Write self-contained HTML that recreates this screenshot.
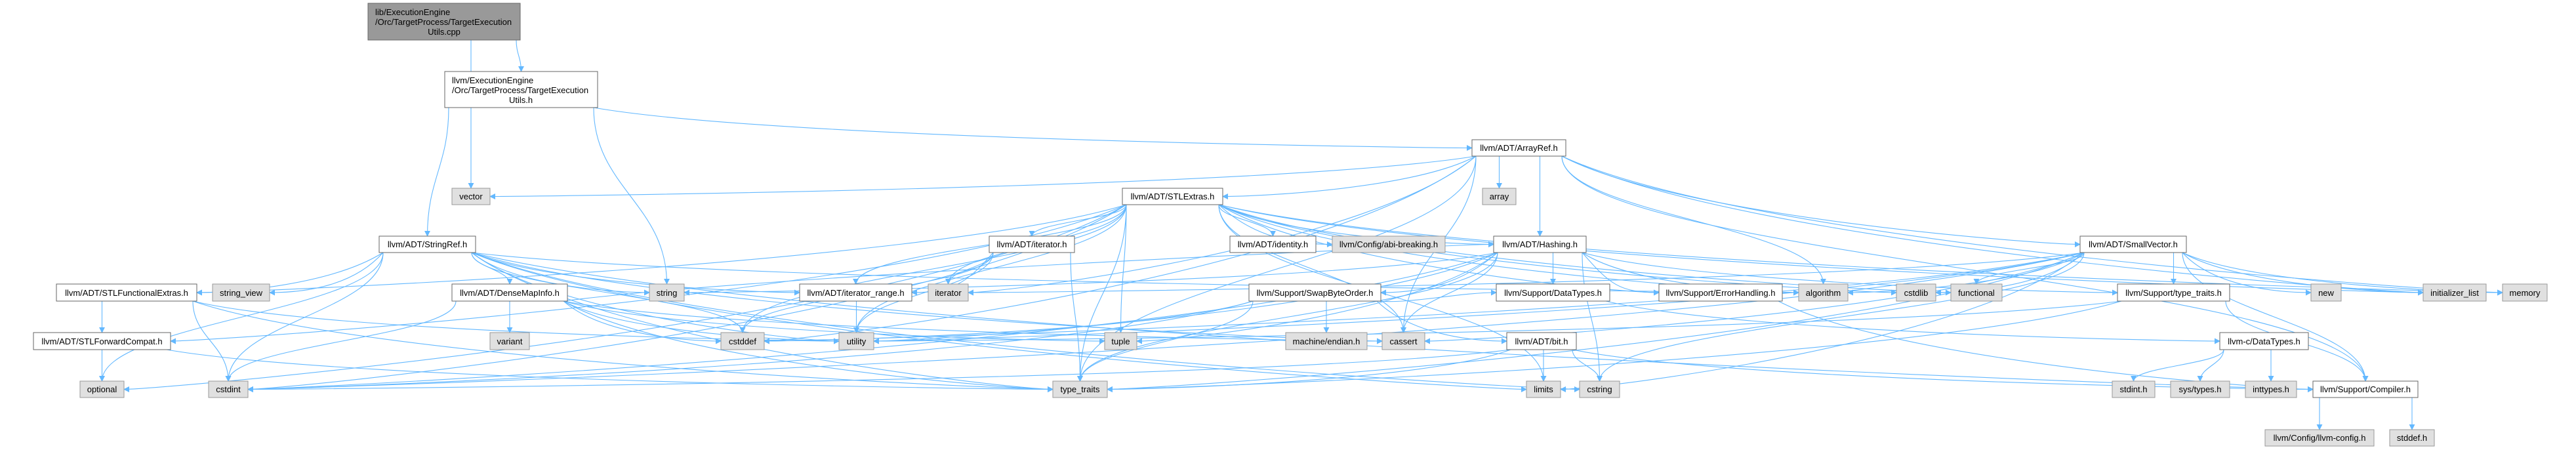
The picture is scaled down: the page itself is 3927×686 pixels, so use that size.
<!DOCTYPE html>
<html><head><meta charset="utf-8">
<style>
html,body{margin:0;padding:0;background:#fff;}
svg{display:block;}
text{font-family:"Liberation Sans",Arial,sans-serif;font-size:13px;fill:#000;}
</style></head>
<body>
<svg id="g" width="3927" height="686" viewBox="0 0 3927 686" xmlns="http://www.w3.org/2000/svg">
<defs>
<marker id="ah" viewBox="0 0 10 10" refX="9" refY="5" markerWidth="9" markerHeight="9" markerUnits="userSpaceOnUse" orient="auto">
<path d="M0,0 L10,5 L0,10 z" fill="#63b8ff"/>
</marker>
</defs>
<g id="edges" fill="none" stroke="#63b8ff" stroke-width="1.1"></g>
<g id="nodes">
<rect x="561" y="5" width="232" height="56" fill="#999" stroke="#666"/>
<text x="572" y="23">lib/ExecutionEngine</text>
<text x="572" y="38">/Orc/TargetProcess/TargetExecution</text>
<text x="677" y="53" text-anchor="middle">Utils.cpp</text>
<rect x="678" y="109" width="233" height="55" fill="#fff" stroke="#666"/>
<text x="689" y="127">llvm/ExecutionEngine</text>
<text x="689" y="142">/Orc/TargetProcess/TargetExecution</text>
<text x="794" y="157" text-anchor="middle">Utils.h</text>
</g>
</svg>
<script>
var R={2:[213,238],3:[287,312],4:[360,385],5:[433,459],6:[507,533],7:[581,606],8:[655,680]};
var N={
root:[561,793,5,61,0],teu:[678,911,109,164,0],
arrayref:[2244,2387,2,'llvm/ADT/ArrayRef.h',1],
vector:[689,747,3,'vector',2],array:[2260,2311,3,'array',2],stlextras:[1711,1864,3,'llvm/ADT/STLExtras.h',1],
stringref:[578,725,4,'llvm/ADT/StringRef.h',1],iteratorh:[1508,1638,4,'llvm/ADT/iterator.h',1],identity:[1875,2006,4,'llvm/ADT/identity.h',1],
abi:[2031,2203,4,'llvm/Config/abi-breaking.h',2],hashing:[2277,2418,4,'llvm/ADT/Hashing.h',1],smallvector:[3171,3333,4,'llvm/ADT/SmallVector.h',1],
stlfe:[86,300,5,'llvm/ADT/STLFunctionalExtras.h',1],string_view:[324,411,5,'string_view',2],densemap:[689,865,5,'llvm/ADT/DenseMapInfo.h',1],
string:[990,1043,5,'string',2],itrange:[1219,1390,5,'llvm/ADT/iterator_range.h',1],iterator:[1415,1476,5,'iterator',2],
swap:[1904,2105,5,'llvm/Support/SwapByteOrder.h',1],datatypes:[2281,2454,5,'llvm/Support/DataTypes.h',1],errh:[2529,2717,5,'llvm/Support/ErrorHandling.h',1],
algorithm:[2742,2817,5,'algorithm',2],cstdlib:[2891,2951,5,'cstdlib',2],functional:[2974,3052,5,'functional',2],
stt:[3228,3399,5,'llvm/Support/type_traits.h',1],new_:[3523,3569,5,'new',2],initlist:[3694,3790,5,'initializer_list',2],memory:[3815,3883,5,'memory',2],
stlfc:[51,260,6,'llvm/ADT/STLForwardCompat.h',1],variant:[747,807,6,'variant',2],cstddef:[1099,1165,6,'cstddef',2],utility:[1279,1332,6,'utility',2],
tuple:[1684,1733,6,'tuple',2],endian:[1960,2084,6,'machine/endian.h',2],cassert:[2107,2172,6,'cassert',2],bit:[2297,2403,6,'llvm/ADT/bit.h',1],
cdt:[3384,3519,6,'llvm-c/DataTypes.h',1],
optional:[122,189,7,'optional',2],cstdint:[318,378,7,'cstdint',2],type_traits:[1605,1688,7,'type_traits',2],limits:[2327,2379,7,'limits',2],
cstring:[2408,2469,7,'cstring',2],stdint:[3220,3285,7,'stdint.h',2],systypes:[3309,3399,7,'sys/types.h',2],inttypes:[3423,3501,7,'inttypes.h',2],
compiler:[3526,3686,7,'llvm/Support/Compiler.h',1],
llvmconfig:[3453,3619,8,'llvm/Config/llvm-config.h',2],stddef:[3643,3711,8,'stddef.h',2]
};
function box(k){var n=N[k];if(k=='root'||k=='teu')return {x1:n[0],x2:n[1],y1:n[2],y2:n[3]};var r=R[n[2]];return {x1:n[0],x2:n[1],y1:r[0],y2:r[1]};}
var E={
root:['teu','vector'],
teu:['arrayref','stringref','string'],
arrayref:['array','hashing','stlextras','smallvector','compiler','algorithm','cassert','cstddef','initlist','iterator','memory','type_traits','vector'],
stlextras:['stlfc','stlfe','iteratorh','itrange','identity','abi','errh','hashing','algorithm','cassert','cstddef','cstdint','cstdlib','functional','initlist','iterator','limits','memory','optional','tuple','type_traits','utility'],
stringref:['densemap','stlfe','itrange','compiler','algorithm','cassert','cstddef','cstring','limits','string','string_view','type_traits','utility','cstdint','optional'],
stlfe:['stlfc','cstdint','type_traits','utility'],
stlfc:['optional','type_traits'],
densemap:['cassert','cstddef','cstdint','tuple','type_traits','utility','variant','hashing'],
iteratorh:['itrange','cstddef','iterator','type_traits','utility'],
itrange:['utility'],
hashing:['datatypes','errh','swap','stt','algorithm','cassert','cstring','string','tuple','utility','type_traits','cstdint'],
swap:['bit','datatypes','cstddef','cstdint','type_traits','endian'],
bit:['compiler','cstdint','cstring','limits','type_traits'],
datatypes:['cdt'],
cdt:['inttypes','stdint','systypes'],
errh:['compiler'],
smallvector:['compiler','stt','algorithm','cassert','cstddef','cstdint','cstdlib','cstring','functional','initlist','iterator','limits','memory','new_','type_traits','utility'],
stt:['compiler','type_traits','utility'],
compiler:['llvmconfig','stddef']
};
var eg=document.getElementById('edges'),ng=document.getElementById('nodes'),ns='http://www.w3.org/2000/svg';
for(var s in E){var a=box(s);E[s].forEach(function(t){var b=box(t);var tx=(b.x1+b.x2)/2,ty=b.y1;
var sx=Math.max(a.x1+6,Math.min(a.x2-6,tx)),sy=a.y2;var d;
var dx=tx-sx,dy=ty-sy;
if(Math.abs(dx)>4*Math.max(dy,20)){ // far horizontal: enter side
 var side=dx<0?b.x2:b.x1;var my=(b.y1+b.y2)/2;
 d='M'+sx+','+sy+' C'+(sx+dx*0.2)+','+(sy+dy*0.6+20)+' '+(side-(dx<0?-60:60))+','+my+' '+side+','+my;
}else{
 d='M'+sx+','+sy+' C'+sx+','+(sy+dy*0.45)+' '+tx+','+(ty-dy*0.45)+' '+tx+','+ty;}
var p=document.createElementNS(ns,'path');p.setAttribute('d',d);p.setAttribute('marker-end','url(#ah)');eg.appendChild(p);});}
</script>
<svg width="0" height="0"></svg>
<script>
</script>
<div style="position:absolute;left:0;top:0;">
<svg width="3927" height="686" viewBox="0 0 3927 686" xmlns="http://www.w3.org/2000/svg">
<g stroke-width="1">
<rect x="2244" y="213" width="143" height="25" fill="#fff" stroke="#666"/><text x="2315.5" y="230" text-anchor="middle">llvm/ADT/ArrayRef.h</text>
<rect x="689" y="287" width="58" height="25" fill="#e0e0e0" stroke="#999"/><text x="718" y="304" text-anchor="middle">vector</text>
<rect x="2260" y="287" width="51" height="25" fill="#e0e0e0" stroke="#999"/><text x="2285.5" y="304" text-anchor="middle">array</text>
<rect x="1711" y="287" width="153" height="25" fill="#fff" stroke="#666"/><text x="1787.5" y="304" text-anchor="middle">llvm/ADT/STLExtras.h</text>
<rect x="578" y="360" width="147" height="25" fill="#fff" stroke="#666"/><text x="651.5" y="377" text-anchor="middle">llvm/ADT/StringRef.h</text>
<rect x="1508" y="360" width="130" height="25" fill="#fff" stroke="#666"/><text x="1573" y="377" text-anchor="middle">llvm/ADT/iterator.h</text>
<rect x="1875" y="360" width="131" height="25" fill="#fff" stroke="#666"/><text x="1940.5" y="377" text-anchor="middle">llvm/ADT/identity.h</text>
<rect x="2031" y="360" width="172" height="25" fill="#e0e0e0" stroke="#999"/><text x="2117" y="377" text-anchor="middle">llvm/Config/abi-breaking.h</text>
<rect x="2277" y="360" width="141" height="25" fill="#fff" stroke="#666"/><text x="2347.5" y="377" text-anchor="middle">llvm/ADT/Hashing.h</text>
<rect x="3171" y="360" width="162" height="25" fill="#fff" stroke="#666"/><text x="3252" y="377" text-anchor="middle">llvm/ADT/SmallVector.h</text>
<rect x="86" y="433" width="214" height="26" fill="#fff" stroke="#666"/><text x="193" y="451" text-anchor="middle">llvm/ADT/STLFunctionalExtras.h</text>
<rect x="324" y="433" width="87" height="26" fill="#e0e0e0" stroke="#999"/><text x="367.5" y="451" text-anchor="middle">string_view</text>
<rect x="689" y="433" width="176" height="26" fill="#fff" stroke="#666"/><text x="777" y="451" text-anchor="middle">llvm/ADT/DenseMapInfo.h</text>
<rect x="990" y="433" width="53" height="26" fill="#e0e0e0" stroke="#999"/><text x="1016.5" y="451" text-anchor="middle">string</text>
<rect x="1219" y="433" width="171" height="26" fill="#fff" stroke="#666"/><text x="1304.5" y="451" text-anchor="middle">llvm/ADT/iterator_range.h</text>
<rect x="1415" y="433" width="61" height="26" fill="#e0e0e0" stroke="#999"/><text x="1445.5" y="451" text-anchor="middle">iterator</text>
<rect x="1904" y="433" width="201" height="26" fill="#fff" stroke="#666"/><text x="2004.5" y="451" text-anchor="middle">llvm/Support/SwapByteOrder.h</text>
<rect x="2281" y="433" width="173" height="26" fill="#fff" stroke="#666"/><text x="2367.5" y="451" text-anchor="middle">llvm/Support/DataTypes.h</text>
<rect x="2529" y="433" width="188" height="26" fill="#fff" stroke="#666"/><text x="2623" y="451" text-anchor="middle">llvm/Support/ErrorHandling.h</text>
<rect x="2742" y="433" width="75" height="26" fill="#e0e0e0" stroke="#999"/><text x="2779.5" y="451" text-anchor="middle">algorithm</text>
<rect x="2891" y="433" width="60" height="26" fill="#e0e0e0" stroke="#999"/><text x="2921" y="451" text-anchor="middle">cstdlib</text>
<rect x="2974" y="433" width="78" height="26" fill="#e0e0e0" stroke="#999"/><text x="3013" y="451" text-anchor="middle">functional</text>
<rect x="3228" y="433" width="171" height="26" fill="#fff" stroke="#666"/><text x="3313.5" y="451" text-anchor="middle">llvm/Support/type_traits.h</text>
<rect x="3523" y="433" width="46" height="26" fill="#e0e0e0" stroke="#999"/><text x="3546" y="451" text-anchor="middle">new</text>
<rect x="3694" y="433" width="96" height="26" fill="#e0e0e0" stroke="#999"/><text x="3742" y="451" text-anchor="middle">initializer_list</text>
<rect x="3815" y="433" width="68" height="26" fill="#e0e0e0" stroke="#999"/><text x="3849" y="451" text-anchor="middle">memory</text>
<rect x="51" y="507" width="209" height="26" fill="#fff" stroke="#666"/><text x="155.5" y="525" text-anchor="middle">llvm/ADT/STLForwardCompat.h</text>
<rect x="747" y="507" width="60" height="26" fill="#e0e0e0" stroke="#999"/><text x="777" y="525" text-anchor="middle">variant</text>
<rect x="1099" y="507" width="66" height="26" fill="#e0e0e0" stroke="#999"/><text x="1132" y="525" text-anchor="middle">cstddef</text>
<rect x="1279" y="507" width="53" height="26" fill="#e0e0e0" stroke="#999"/><text x="1305.5" y="525" text-anchor="middle">utility</text>
<rect x="1684" y="507" width="49" height="26" fill="#e0e0e0" stroke="#999"/><text x="1708.5" y="525" text-anchor="middle">tuple</text>
<rect x="1960" y="507" width="124" height="26" fill="#e0e0e0" stroke="#999"/><text x="2022" y="525" text-anchor="middle">machine/endian.h</text>
<rect x="2107" y="507" width="65" height="26" fill="#e0e0e0" stroke="#999"/><text x="2139.5" y="525" text-anchor="middle">cassert</text>
<rect x="2297" y="507" width="106" height="26" fill="#fff" stroke="#666"/><text x="2350" y="525" text-anchor="middle">llvm/ADT/bit.h</text>
<rect x="3384" y="507" width="135" height="26" fill="#fff" stroke="#666"/><text x="3451.5" y="525" text-anchor="middle">llvm-c/DataTypes.h</text>
<rect x="122" y="581" width="67" height="25" fill="#e0e0e0" stroke="#999"/><text x="155.5" y="598" text-anchor="middle">optional</text>
<rect x="318" y="581" width="60" height="25" fill="#e0e0e0" stroke="#999"/><text x="348" y="598" text-anchor="middle">cstdint</text>
<rect x="1605" y="581" width="83" height="25" fill="#e0e0e0" stroke="#999"/><text x="1646.5" y="598" text-anchor="middle">type_traits</text>
<rect x="2327" y="581" width="52" height="25" fill="#e0e0e0" stroke="#999"/><text x="2353" y="598" text-anchor="middle">limits</text>
<rect x="2408" y="581" width="61" height="25" fill="#e0e0e0" stroke="#999"/><text x="2438.5" y="598" text-anchor="middle">cstring</text>
<rect x="3220" y="581" width="65" height="25" fill="#e0e0e0" stroke="#999"/><text x="3252.5" y="598" text-anchor="middle">stdint.h</text>
<rect x="3309" y="581" width="90" height="25" fill="#e0e0e0" stroke="#999"/><text x="3354" y="598" text-anchor="middle">sys/types.h</text>
<rect x="3423" y="581" width="78" height="25" fill="#e0e0e0" stroke="#999"/><text x="3462" y="598" text-anchor="middle">inttypes.h</text>
<rect x="3526" y="581" width="160" height="25" fill="#fff" stroke="#666"/><text x="3606" y="598" text-anchor="middle">llvm/Support/Compiler.h</text>
<rect x="3453" y="655" width="166" height="25" fill="#e0e0e0" stroke="#999"/><text x="3536" y="672" text-anchor="middle">llvm/Config/llvm-config.h</text>
<rect x="3643" y="655" width="68" height="25" fill="#e0e0e0" stroke="#999"/><text x="3677" y="672" text-anchor="middle">stddef.h</text>
</g>
</svg>
</div>
</body></html>
